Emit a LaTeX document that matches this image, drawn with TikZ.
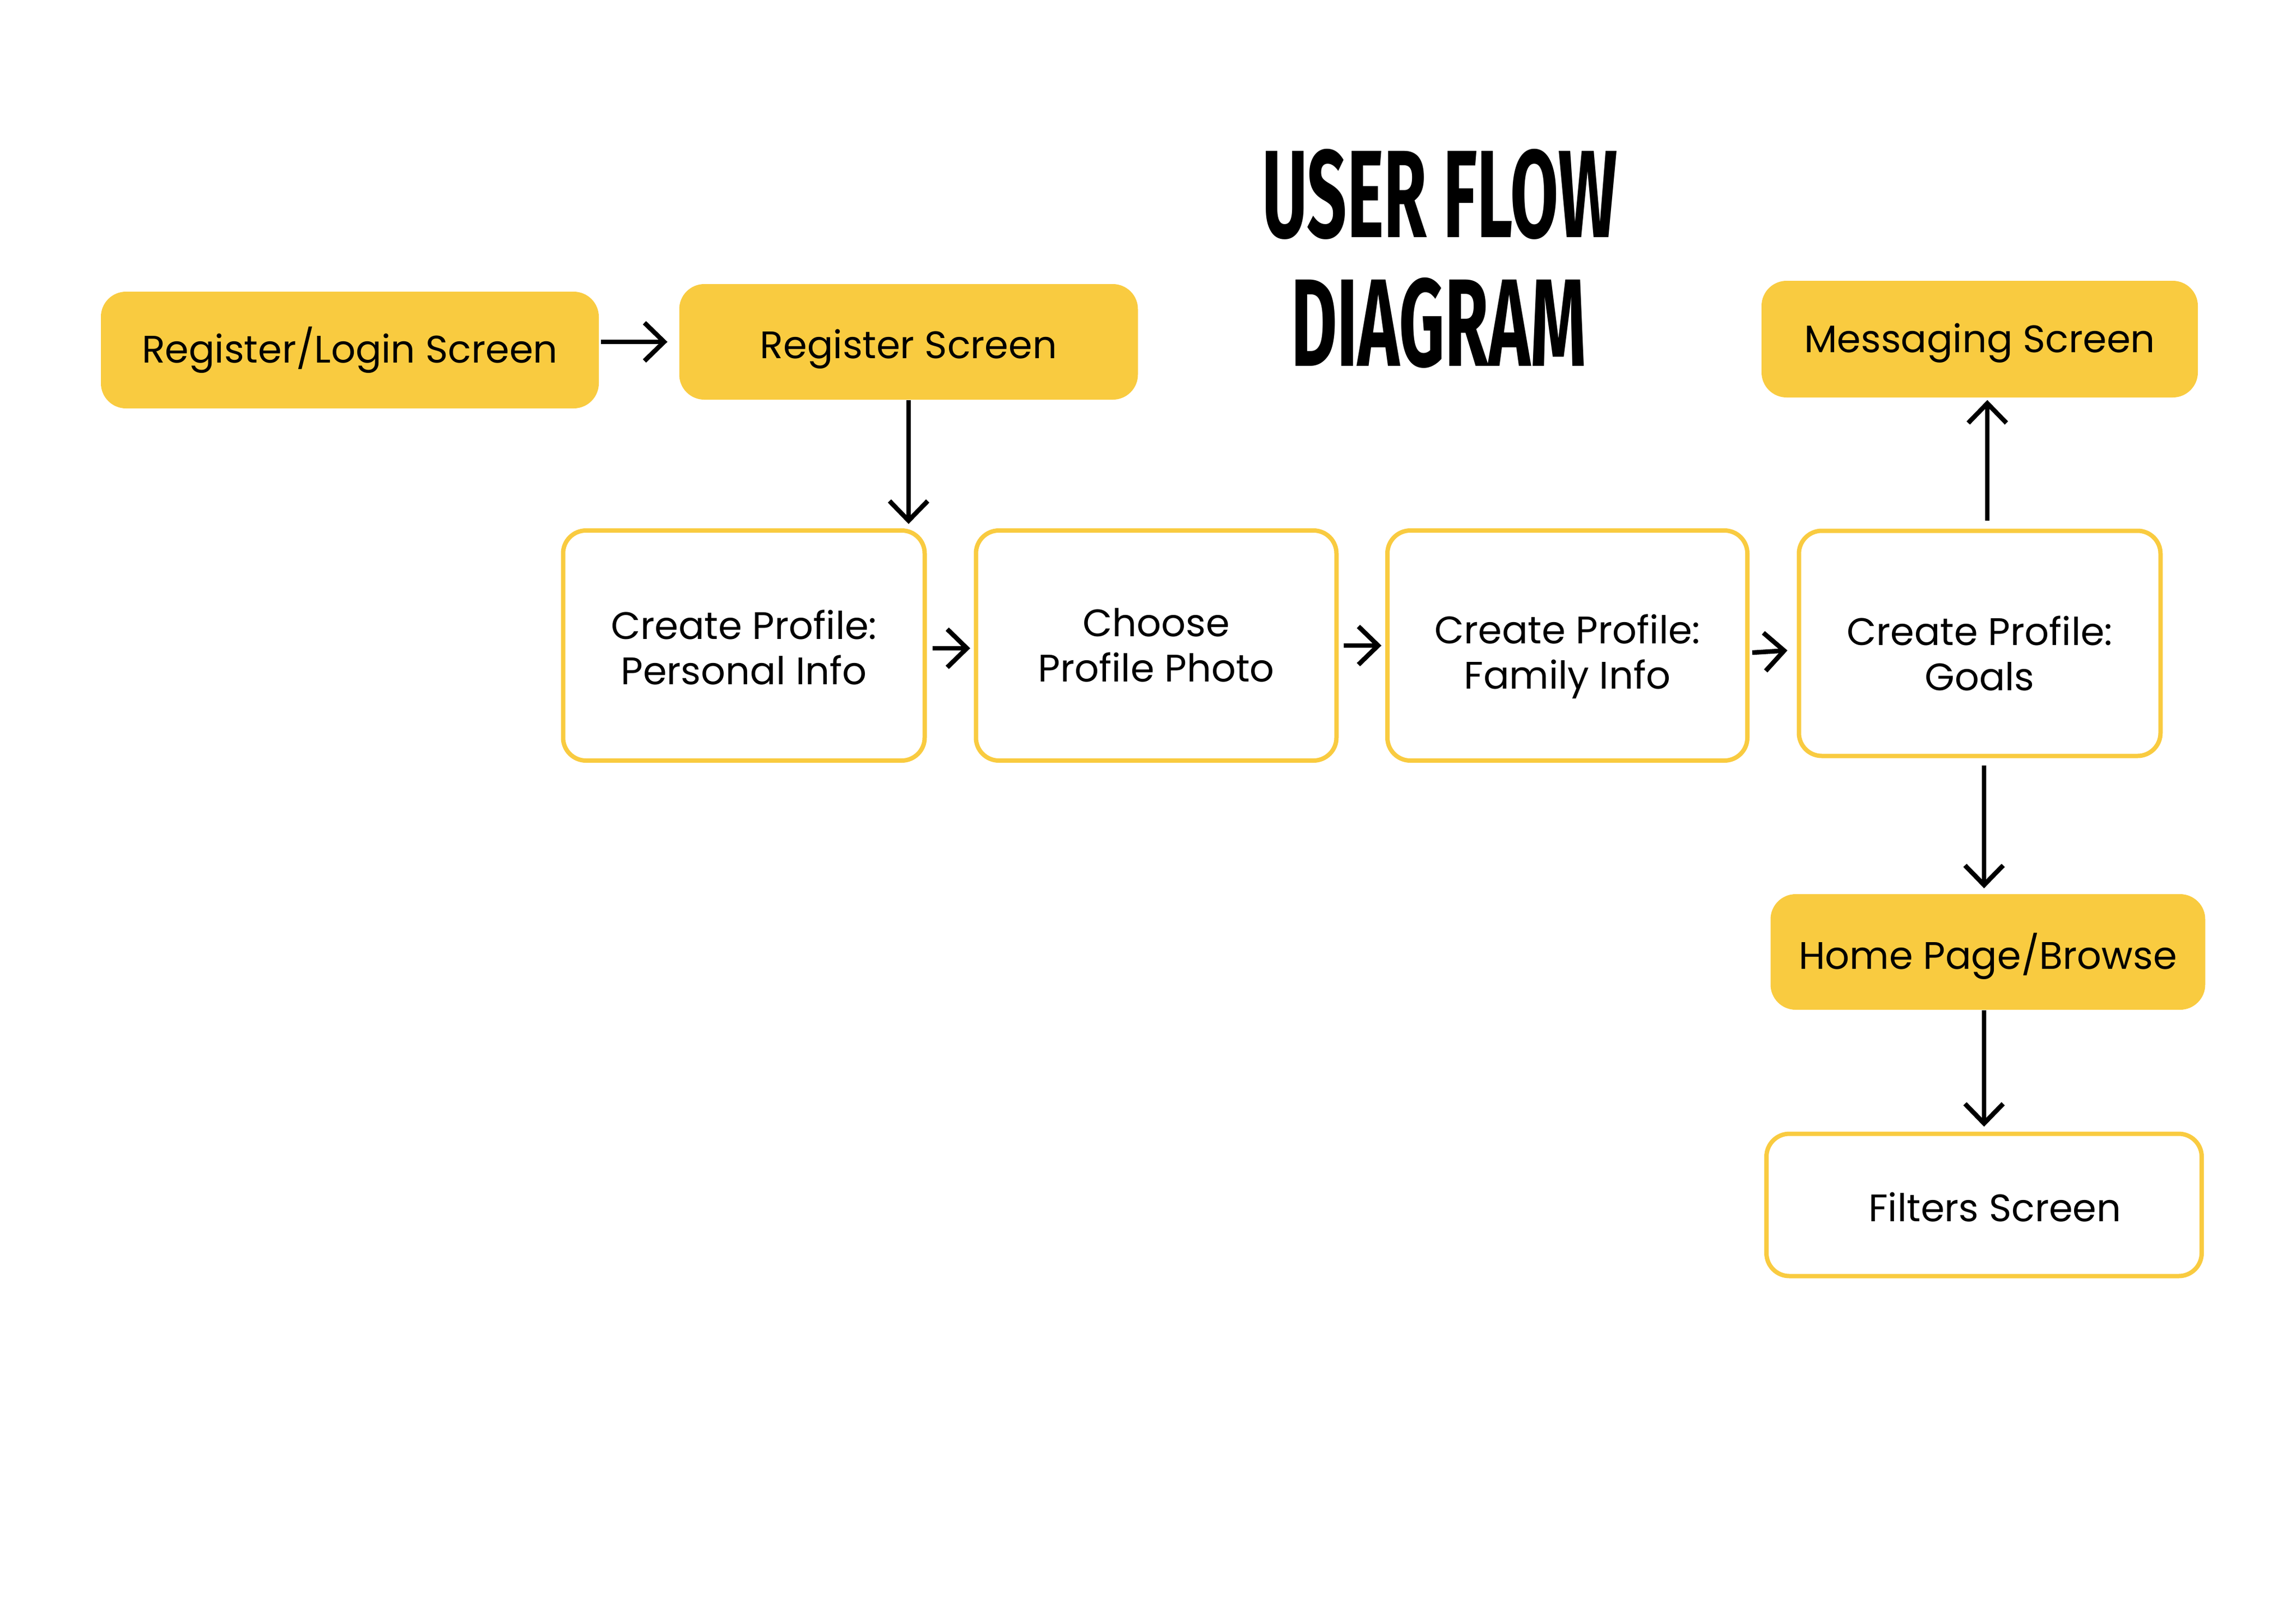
\documentclass[tikz,border=0pt]{standalone}
\usepackage{fontspec}
\setmainfont{Poppins}
\newfontfamily\titlefont{Fira Sans}[BoldFont={* Bold}]
\usetikzlibrary{arrows.meta}
\definecolor{boxyellow}{HTML}{F9CB40}
\newcommand{\bxtext}[2]{\raisebox{#1}[\height][\depth]{\begin{tabular}{@{}c@{}}#2\end{tabular}}}
\tikzset{
  filledbox/.style={draw=none, fill=boxyellow, rounded corners=4.6mm, inner sep=0pt, align=center,
    font=\fontsize{20}{23.6}\selectfont},
  outlinebox/.style={draw=boxyellow, line width=0.8mm, fill=white, rounded corners=4.2mm, inner sep=0pt, align=center,
    font=\fontsize{20}{23.6}\selectfont},
  flowarrow/.style={line width=0.85mm, -{Straight Barb[length=3.6mm, width=7mm, line width=0.85mm]}},
  titletext/.style={inner sep=0pt, font=\titlefont\bfseries\fontsize{65}{65}\selectfont}
}
\begin{document}
\begin{tikzpicture}
\useasboundingbox (0,0) rectangle (42.1,-29.75);
% title
\node[titletext, anchor=base] (t1) at (26.40,-4.35) {\scalebox{0.56}[1]{USER FLOW}};
\node[titletext, anchor=base] (t2) at (26.38,-6.71) {\scalebox{0.57}[1]{DIAGRAM}};
% nodes
\node[filledbox, minimum width=9.13cm, minimum height=2.14cm] (login) at (6.415,-6.42) {\bxtext{-0.3mm}{Register/Login Screen}};
\node[filledbox, minimum width=8.41cm, minimum height=2.12cm] (reg) at (16.66,-6.27) {\bxtext{-1.35mm}{Register Screen}};
\node[filledbox, minimum width=8.00cm, minimum height=2.14cm] (msg) at (36.30,-6.22) {\bxtext{-0.8mm}{Messaging Screen}};
\node[outlinebox, minimum width=6.63cm, minimum height=4.22cm] (pers) at (13.64,-11.84) {\bxtext{-1.35mm}{Create Profile:\\Personal Info}};
\node[outlinebox, minimum width=6.61cm, minimum height=4.22cm] (photo) at (21.20,-11.84) {\bxtext{-0.8mm}{Choose\\Profile Photo}};
\node[outlinebox, minimum width=6.60cm, minimum height=4.22cm] (fam) at (28.74,-11.84) {\bxtext{-2.15mm}{Create Profile:\\Family Info}};
\node[outlinebox, minimum width=6.63cm, minimum height=4.13cm] (goals) at (36.30,-11.80) {\bxtext{-2.8mm}{Create Profile:\\Goals}};
\node[filledbox, minimum width=7.97cm, minimum height=2.12cm] (home) at (36.45,-17.46) {\bxtext{-1.1mm}{Home Page/Browse}};
\node[outlinebox, minimum width=7.98cm, minimum height=2.61cm] (filt) at (36.38,-22.10) {\bxtext{-1.35mm}{\hspace*{4mm}Filters Screen}};
% arrows
\draw[flowarrow] ([xshift=0.3mm]login.east |- reg.west) -- ([xshift=-2.1mm]reg.west);
\draw[flowarrow] (reg.south) -- ([yshift=0.8mm]reg.south |- pers.north);
\draw[flowarrow] ([xshift=1mm,yshift=-0.5mm]pers.east) -- ([xshift=-0.65mm,yshift=-0.5mm]photo.west);
\draw[flowarrow] ([xshift=0.9mm]photo.east) -- ([xshift=-0.7mm]fam.west);
\draw[flowarrow] ([xshift=0.5mm,yshift=-1.3mm]fam.east) -- ([xshift=-1.7mm,yshift=-1.3mm]goals.west);
\draw[flowarrow] ([xshift=1.4mm,yshift=1.5mm]goals.north) -- ([xshift=1.4mm,yshift=-0.4mm]goals.north |- msg.south);
\draw[flowarrow] ([xshift=0.8mm,yshift=-1.3mm]goals.south) -- ([xshift=0.8mm,yshift=1mm]goals.south |- home.north);
\draw[flowarrow] ([xshift=-0.7mm]home.south) -- ([xshift=-0.7mm,yshift=0.9mm]home.south |- filt.north);
\end{tikzpicture}
\end{document}
